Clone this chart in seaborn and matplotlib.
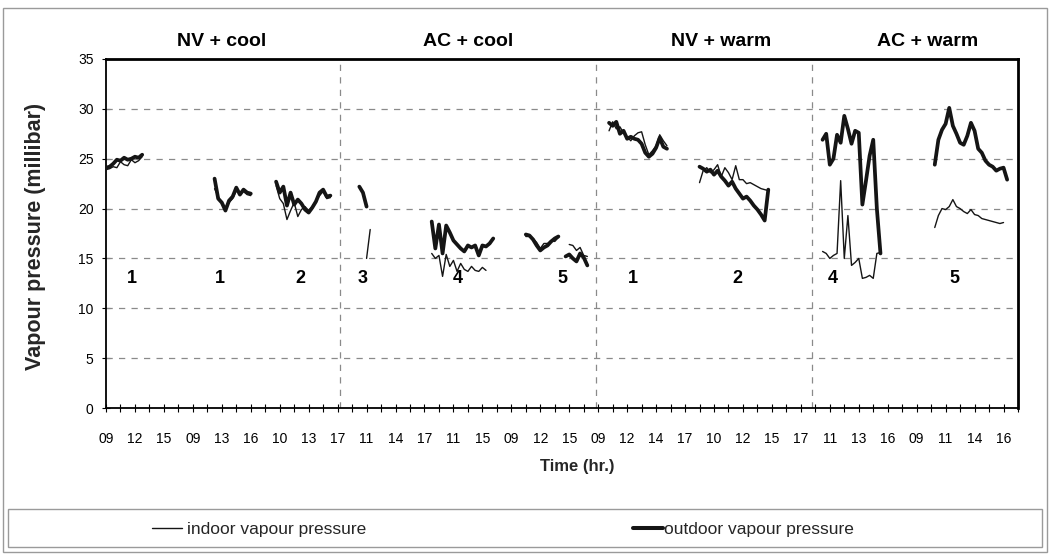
import numpy as np
import pandas as pd
import matplotlib
matplotlib.use("Agg")
import matplotlib.pyplot as plt
from matplotlib.lines import Line2D
from matplotlib.patches import Rectangle
from matplotlib.transforms import blended_transform_factory
import seaborn as sns

# ---- axis layout (observation index, 4 readings per tick) ----
OBS_PER_TICK = 4
N_TICKS = 63
tick_labels = ["09", "12", "15", "09", "13", "16", "10", "13", "17", "11", "14",
               "17", "11", "15", "09", "12", "15", "09", "12", "14", "17", "10",
               "12", "15", "17", "11", "13", "16", "09", "11", "14", "16"]

groups = ["NV + cool", "AC + cool", "NV + warm", "AC + warm"]
group_title_obs = [32, 100, 170, 227]
group_bounds = [64.6, 135.4, 195.2]

run_labels = ["1", "1", "2", "3", "4", "5", "1", "2", "4", "5"]
run_label_obs = [7.1, 31.5, 53.6, 70.9, 97.3, 126.2, 145.6, 174.5, 200.8, 234.3]

# ---- vapour pressure readings (millibar) ----
# NV + cool, run 1 (day a)
nvc1a_start = 0
nvc1a_out = [24.1, 24.2, 24.5, 24.9, 24.8, 25.1, 24.9, 25.0, 25.2, 25.1, 25.4]
nvc1a_in = [23.9, 24.0, 24.2, 24.1, 24.7, 24.4, 24.3, 24.9, 24.6, 24.8, 25.2]
# NV + cool, run 1 (day b)
nvc1b_start = 30
nvc1b_out = [23.0, 21.0, 20.6, 19.8, 20.8, 21.2, 22.1, 21.4, 21.9, 21.6, 21.5]
nvc1b_in = [22.0, 21.2, 20.5, 20.0, 20.6, 21.0, 21.8, 21.6, 21.7, 21.4, 21.3]
# NV + cool, run 2
nvc2_start = 47
nvc2_out = [22.7, 21.6, 22.2, 20.3, 21.6, 20.4, 20.9, 20.5, 19.9, 19.6, 20.1,
            20.7, 21.6, 21.9, 21.2, 21.3]
nvc2_in = [22.3, 21.0, 20.5, 18.9, 19.8, 20.6, 19.2, 19.9, 20.2, 19.8, 20.2,
           20.8, 21.3, 21.7, 21.0, 21.1]
# AC + cool, run 3
acc3_out_start = 70
acc3_out = [22.2, 21.6, 20.2]
acc3_in_start = 72
acc3_in = [15.0, 17.9]
# AC + cool, run 4
acc4_start = 90
acc4_out = [18.7, 16.0, 18.4, 15.5, 18.3, 17.6, 16.8, 16.4, 16.0, 15.7, 16.3,
            16.1, 16.3, 15.3, 16.3, 16.2, 16.5, 17.0]
acc4_in = [15.5, 15.0, 15.3, 13.2, 15.4, 14.2, 14.8, 13.7, 14.5, 13.9, 13.7,
           14.2, 13.8, 13.7, 14.1, 13.8]
# AC + cool, run 5 (day a)
acc5a_start = 116
acc5a_out = [17.4, 17.3, 16.9, 16.3, 15.8, 16.1, 16.3, 16.7, 17.0, 17.2]
acc5a_in = [17.2, 17.2, 17.0, 16.6, 16.0, 16.5, 16.5, 16.8, 16.7, 17.1]
# AC + cool, run 5 (day b)
acc5b_out_start = 127
acc5b_out = [15.2, 15.4, 15.0, 14.7, 15.5, 15.1, 14.3]
acc5b_in_start = 128
acc5b_in = [16.4, 16.3, 15.8, 16.1, 15.3, 15.2]
# NV + warm, run 1
nvw1_start = 139
nvw1_out = [28.6, 28.3, 28.7, 27.5, 27.8, 27.0, 27.2, 27.0, 26.9, 26.5, 25.6,
            25.2, 25.5, 26.1, 27.1, 26.2, 26.0]
nvw1_in = [27.8, 28.7, 28.0, 28.2, 27.6, 27.2, 26.8, 27.3, 27.6, 27.7, 26.4,
           25.4, 25.8, 26.3, 27.4, 26.8, 26.3]
# NV + warm, run 2
nvw2_start = 164
nvw2_out = [24.2, 24.0, 23.7, 23.9, 23.4, 23.8, 23.2, 22.8, 22.3, 22.7, 22.0,
            21.5, 21.0, 21.2, 20.8, 20.3, 19.9, 19.4, 18.8, 21.9]
nvw2_in = [22.6, 23.8, 24.1, 23.6, 23.9, 24.4, 23.2, 24.1, 23.6, 22.9, 24.3,
           22.9, 22.9, 22.5, 22.6, 22.4, 22.2, 22.0, 21.9, 21.8]
# AC + warm, run 4
acw4_start = 198
acw4_out = [26.9, 27.5, 24.4, 25.0, 27.4, 26.6, 29.3, 28.0, 26.5, 27.8, 27.6,
            20.4, 22.8, 25.3, 26.9, 20.0, 15.5]
acw4_in = [15.7, 15.5, 15.0, 15.3, 15.5, 22.8, 15.0, 19.3, 14.3, 14.6, 15.0,
           13.0, 13.1, 13.3, 13.0, 15.5, 15.6]
# AC + warm, run 5
acw5_start = 229
acw5_out = [24.4, 26.9, 27.9, 28.5, 30.1, 28.3, 27.5, 26.6, 26.4, 27.3, 28.6,
            27.8, 26.0, 25.6, 24.8, 24.4, 24.2, 23.8, 24.0, 24.1, 22.9]
acw5_in = [18.1, 19.3, 20.0, 19.9, 20.2, 20.9, 20.2, 20.0, 19.7, 19.5, 19.9,
           19.4, 19.3, 19.0, 18.9, 18.8, 18.7, 18.6, 18.5, 18.6]

segments = [
    ("nvc1a", nvc1a_start, nvc1a_out, nvc1a_start, nvc1a_in),
    ("nvc1b", nvc1b_start, nvc1b_out, nvc1b_start, nvc1b_in),
    ("nvc2", nvc2_start, nvc2_out, nvc2_start, nvc2_in),
    ("acc3", acc3_out_start, acc3_out, acc3_in_start, acc3_in),
    ("acc4", acc4_start, acc4_out, acc4_start, acc4_in),
    ("acc5a", acc5a_start, acc5a_out, acc5a_start, acc5a_in),
    ("acc5b", acc5b_out_start, acc5b_out, acc5b_in_start, acc5b_in),
    ("nvw1", nvw1_start, nvw1_out, nvw1_start, nvw1_in),
    ("nvw2", nvw2_start, nvw2_out, nvw2_start, nvw2_in),
    ("acw4", acw4_start, acw4_out, acw4_start, acw4_in),
    ("acw5", acw5_start, acw5_out, acw5_start, acw5_in),
]

rows = []
for name, so, vo, si, vi in segments:
    for k, v in enumerate(vo):
        rows.append({"obs": so + k, "vp": v, "series": "outdoor", "unit": name + "_out"})
    for k, v in enumerate(vi):
        rows.append({"obs": si + k, "vp": v, "series": "indoor", "unit": name + "_in"})
df = pd.DataFrame(rows)

# ---- styling ----
sns.set_theme(style="white")
plt.rcParams["font.family"] = ["Liberation Sans", "DejaVu Sans"]

INK = "#151515"
GRID = "#8a8a8a"

fig = plt.figure(figsize=(10.52, 5.60), dpi=100)
ax = fig.add_axes([106 / 1052, 1 - 408 / 560, 912 / 1052, 349 / 560])

sns.lineplot(data=df, x="obs", y="vp", hue="series", size="series",
             units="unit", estimator=None, sort=True,
             palette={"outdoor": INK, "indoor": INK},
             sizes={"outdoor": 2.7, "indoor": 1.0},
             legend=False, ax=ax, zorder=3)

ax.set_xlim(0, N_TICKS * OBS_PER_TICK)
ax.set_ylim(0, 35)
ax.set_yticks(np.arange(0, 36, 5))
ax.set_xticks(np.arange(0, N_TICKS * OBS_PER_TICK + 1, OBS_PER_TICK), minor=True)
ax.set_xticks(np.arange(len(tick_labels)) * 2 * OBS_PER_TICK)
ax.set_xticklabels(tick_labels)
ax.tick_params(axis="x", which="both", direction="inout", length=6, width=0.8,
               colors="black", labelsize=10, pad=14, bottom=True)
ax.tick_params(axis="y", which="both", direction="inout", length=6, width=0.8,
               colors="black", labelsize=10, pad=6, left=True)
ax.set_xlabel("")
ax.set_ylabel("")

for y in range(5, 35, 5):
    ax.axhline(y, color=GRID, lw=0.9, ls=(0, (5, 5)), zorder=1)
for xb in group_bounds:
    ax.axvline(xb, color=GRID, lw=0.9, ls=(0, (5, 5)), zorder=1)

for side in ["left", "bottom", "top", "right"]:
    ax.spines[side].set_visible(True)
    ax.spines[side].set_color("black")
ax.spines["left"].set_linewidth(1.3)
ax.spines["bottom"].set_linewidth(1.3)
ax.spines["top"].set_linewidth(2.0)
ax.spines["right"].set_linewidth(2.0)

bt = blended_transform_factory(ax.transData, ax.transAxes)
for title, xo in zip(groups, group_title_obs):
    ax.text(xo, 1 + 17 / 349, title, transform=bt, ha="center", va="center",
            fontsize=14, fontweight="bold", color="black")

for lab, xo in zip(run_labels, run_label_obs):
    ax.text(xo, 13.0, lab, ha="center", va="center", fontsize=13,
            fontweight="bold", color="black", zorder=4)

fig.text(36 / 1052, 1 - 236 / 560, "Vapour pressure (millibar)", rotation=90,
         ha="center", va="center", fontsize=15.5, fontweight="bold")
fig.text(577 / 1052, 1 - 466 / 560, "Time (hr.)", ha="center", va="center",
         fontsize=12, fontweight="bold")

# outer chart frame and legend box
fig.add_artist(Rectangle((3 / 1052, 1 - 552 / 560), 1044 / 1052, 544 / 560,
                         transform=fig.transFigure, fill=False,
                         edgecolor="#9a9a9a", lw=1.0))
fig.add_artist(Rectangle((8 / 1052, 1 - 547 / 560), 1034 / 1052, 38 / 560,
                         transform=fig.transFigure, fill=False,
                         edgecolor="#9a9a9a", lw=1.0))

h_in = Line2D([], [], color=INK, lw=1.0)
h_out = Line2D([], [], color=INK, lw=2.9)
leg1 = fig.legend([h_in], ["indoor vapour pressure"], loc="center left",
                  bbox_to_anchor=(152 / 1052, 1 - 529 / 560), frameon=False,
                  borderpad=0, borderaxespad=0, handlelength=1.7,
                  handletextpad=0.3, fontsize=12.5)
leg2 = fig.legend([h_out], ["outdoor vapour pressure"], loc="center left",
                  bbox_to_anchor=(633 / 1052, 1 - 529 / 560), frameon=False,
                  borderpad=0, borderaxespad=0, handlelength=1.7,
                  handletextpad=0.1, fontsize=12.5)

fig.savefig("out.png", dpi=100, facecolor="white")
